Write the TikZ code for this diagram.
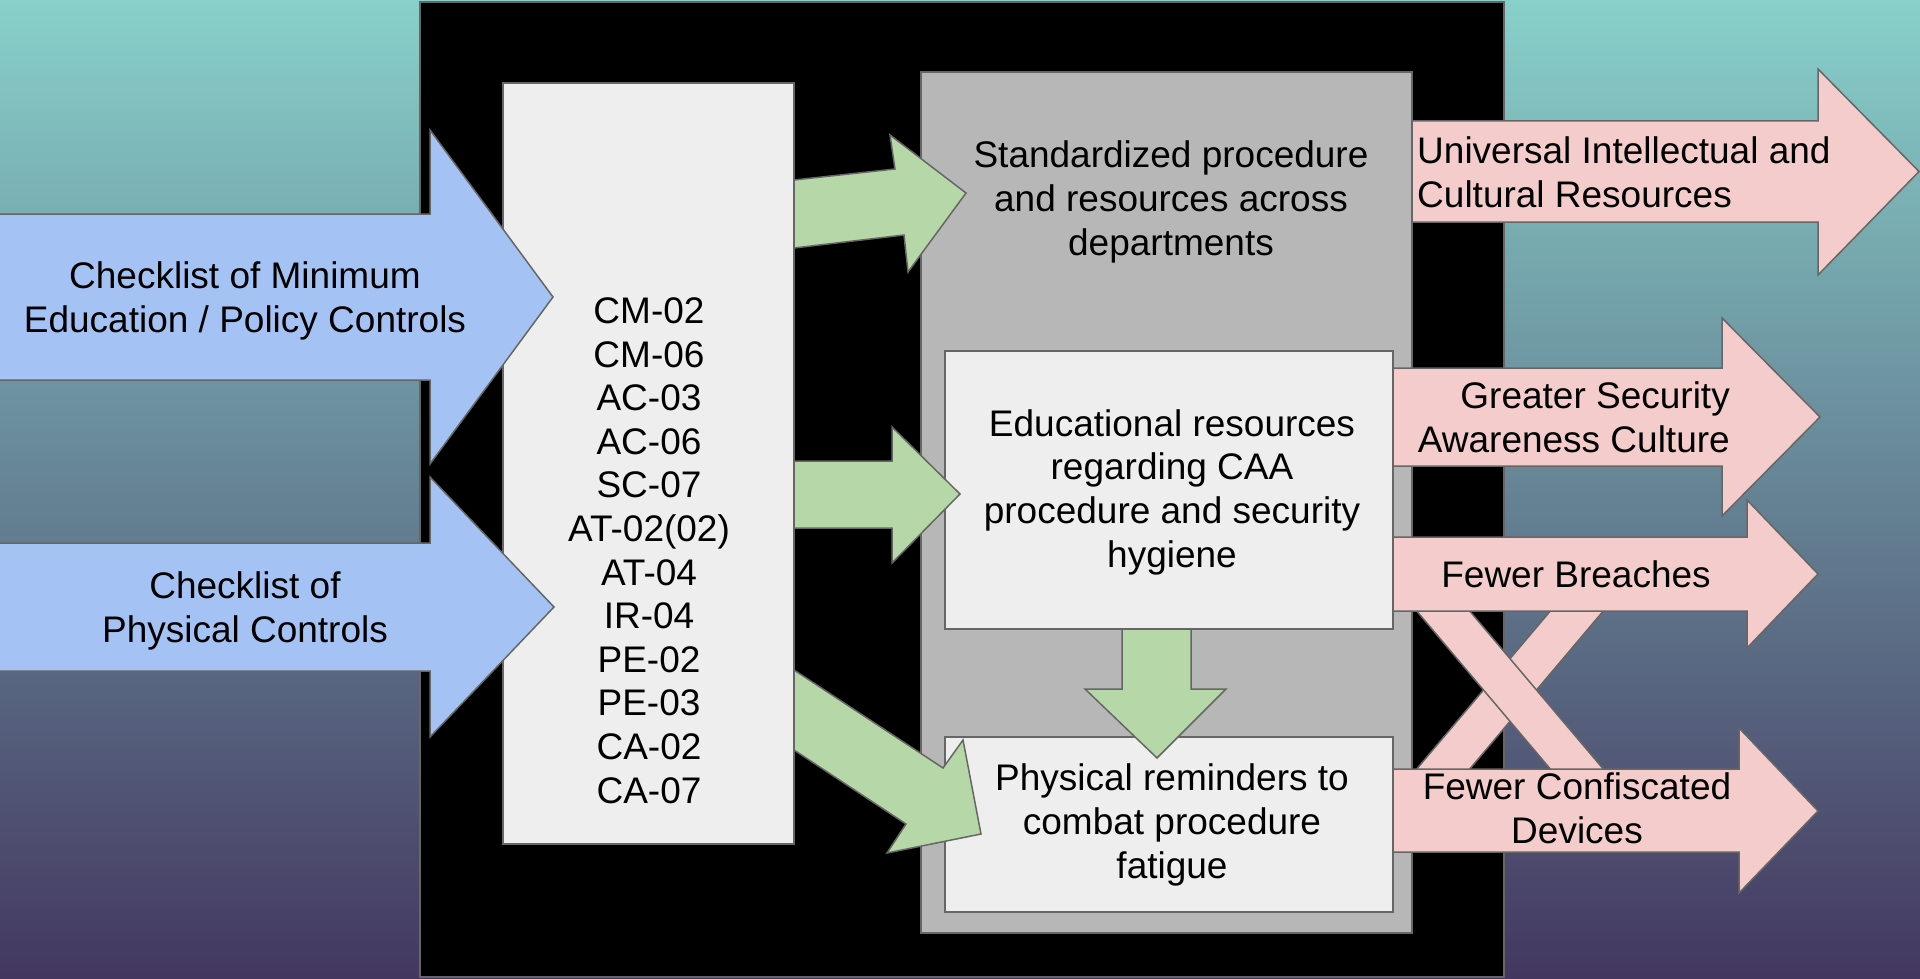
\documentclass[tikz,border=0pt]{standalone}
\usepackage{fontspec}
\setmainfont{Liberation Sans}
\definecolor{bgtop}{RGB}{136,208,202}
\definecolor{bgmid}{RGB}{100,136,150}
\definecolor{bgbot}{RGB}{67,55,96}
\definecolor{blueA}{HTML}{A4C2F4}
\definecolor{greenA}{HTML}{B6D7A8}
\definecolor{pinkA}{HTML}{F4CCCC}
\definecolor{lightbox}{HTML}{EEEEEE}
\definecolor{graybox}{HTML}{B7B7B7}
\definecolor{edge}{HTML}{666666}
\begin{document}
\begin{tikzpicture}[x=1pt,y=-1pt,
  outl/.style={draw=edge, line width=1.5pt, line join=miter},
  bluearrow/.style={outl, fill=blueA},
  greenarrow/.style={outl, fill=greenA},
  pinkarrow/.style={outl, fill=pinkA},
  boxnode/.style={outl, rectangle, inner sep=0pt, outer sep=0pt},
  lightnode/.style={boxnode, fill=lightbox},
  txt/.style={font=\fontsize{37}{43.6}\selectfont, inner sep=0pt, align=center, anchor=base}]
\useasboundingbox (0,0) rectangle (1920,979);
\fill[top color=bgtop, middle color=bgmid, bottom color=bgbot] (0,0) rectangle (1920,979);

% frames and boxes
\node[boxnode, fill=black, minimum width=1084pt, minimum height=975pt] (frame) at (962,489.5) {};
\node[lightnode, minimum width=291pt, minimum height=761pt] (ctl) at (648.5,463.5) {};
\node[boxnode, fill=graybox, minimum width=491pt, minimum height=861pt] (grp) at (1166.5,502.5) {};
\node[lightnode, minimum width=448pt, minimum height=278pt] (edu) at (1169,490) {};
\node[lightnode, minimum width=448pt, minimum height=175pt] (phys) at (1169,824.5) {};

% blue input arrows
\draw[bluearrow] (-3,214) -- (430,214) -- (430,130) -- (553,297) -- (430,464) -- (430,380) -- (-3,380) -- cycle;
\draw[bluearrow] (-3,543) -- (430,543) -- (430,477) -- (554,607) -- (430,737) -- (430,671) -- (-3,671) -- cycle;

% green arrows
\draw[greenarrow] (794,180) -- (895,169) -- (890,135) -- (966,193) -- (908,272) -- (904,235) -- (794,248) -- cycle;
\draw[greenarrow] (794,461) -- (892,461) -- (892,427) -- (960,494) -- (892,563) -- (892,528) -- (794,528) -- cycle;
\draw[greenarrow] (794,670) -- (943,768) -- (963,740) -- (981,834) -- (887,853) -- (906,824) -- (794,750) -- cycle;
\draw[greenarrow] (1122,629) -- (1191,629) -- (1191,689) -- (1226,689) -- (1157,758) -- (1085,689) -- (1122,689) -- cycle;

% crossing bands
\draw[pinkarrow] (1552,609) -- (1605,609) -- (1468,771) -- (1415,771) -- cycle;
\draw[pinkarrow] (1415,609) -- (1468,609) -- (1605,771) -- (1552,771) -- cycle;

% pink output arrows
\draw[pinkarrow] (1412,121) -- (1818,121) -- (1818,69) -- (1919,171.5) -- (1818,275) -- (1818,222) -- (1412,222) -- cycle;
\draw[pinkarrow] (1393,368) -- (1722,368) -- (1722,318) -- (1820,417) -- (1722,516) -- (1722,466) -- (1393,466) -- cycle;
\draw[pinkarrow] (1393,537) -- (1747,537) -- (1747,500) -- (1818,574) -- (1747,648) -- (1747,611) -- (1393,611) -- cycle;
\draw[pinkarrow] (1393,769) -- (1739,769) -- (1739,728) -- (1818,811) -- (1739,893) -- (1739,852) -- (1393,852) -- cycle;

% texts (anchor base = baseline of the last line)
\node[txt] (tmin) at (245,332) {Checklist of Minimum\\Education / Policy Controls};
\node[txt] (tphy) at (245,642) {Checklist of\\Physical Controls};
\node[txt] (tctl) at (649,803) {CM-02\\CM-06\\AC-03\\AC-06\\SC-07\\AT-02(02)\\AT-04\\IR-04\\PE-02\\PE-03\\CA-02\\CA-07};
\node[txt] (tstd) at (1171,255) {Standardized procedure\\and resources across\\departments};
\node[txt] (tedu) at (1172,567) {Educational resources\\regarding CAA\\procedure and security\\hygiene};
\node[txt] (tphr) at (1172,878) {Physical reminders to\\combat procedure\\fatigue};
\node[txt, align=left, anchor=base west] (tuni) at (1417,207) {Universal Intellectual and\\Cultural Resources};
\node[txt, align=right, anchor=base east] (tgsa) at (1730,452) {Greater Security\\Awareness Culture};
\node[txt] (tfb) at (1576,587) {Fewer Breaches};
\node[txt] (tfcd) at (1577,843) {Fewer Confiscated\\Devices};
\end{tikzpicture}
\end{document}
